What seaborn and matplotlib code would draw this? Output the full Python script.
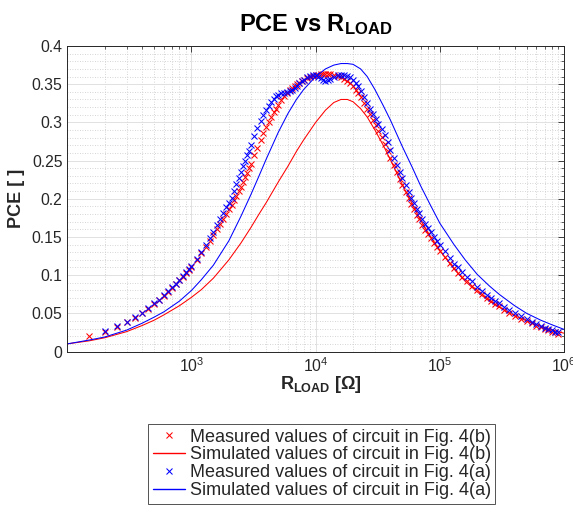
import numpy as np
import seaborn as sns
import matplotlib.pyplot as plt
from matplotlib.lines import Line2D
from matplotlib.ticker import FixedLocator, LogLocator, MultipleLocator, NullFormatter, FuncFormatter

# measured sweep (load resistance, ohm)
r_meas = [150, 200, 250, 300, 350, 400, 450, 500, 550, 600, 650, 700, 750, 800, 850, 900, 950,
          1000, 1100, 1200, 1300, 1400, 1500, 1600, 1700, 1800, 1900,
          2000, 2100, 2200, 2300, 2400, 2500, 2600, 2700, 2800, 2900,
          3000, 3200, 3400, 3600, 3800, 4000, 4200, 4400, 4600, 4800,
          5000, 5300, 5600, 5900, 6200, 6500, 6800, 7100, 7400, 7700,
          8000, 8500, 9000, 9500, 10000, 10500, 11000, 11500, 12000, 12500,
          13000, 14000, 15000, 16000, 17000, 18000, 19000, 20000, 21000, 22000,
          23000, 24500, 26000, 27500, 29000, 30500, 32000, 34000, 36000, 38000,
          40000, 42500, 45000, 47500, 50000, 53000, 56000, 59000, 62000, 65000,
          68000, 72000, 76000, 80000, 85000, 90000, 95000, 100000, 110000, 120000,
          130000, 140000, 150000, 165000, 180000, 200000, 220000, 240000, 260000, 280000,
          300000, 330000, 360000, 400000, 450000, 500000, 550000, 600000, 650000, 700000,
          750000, 800000, 850000, 900000]

# measured PCE, circuit of Fig. 4(b)
pce_meas_b = [0.020, 0.026, 0.032, 0.038, 0.044, 0.050, 0.056, 0.062, 0.067, 0.073, 0.078, 0.083, 0.088, 0.093, 0.098, 0.103, 0.107,
              0.111, 0.120, 0.129, 0.137, 0.145, 0.153, 0.160, 0.167, 0.174, 0.180,
              0.186, 0.192, 0.198, 0.204, 0.210, 0.216, 0.222, 0.228, 0.234, 0.240,
              0.246, 0.257, 0.267, 0.277, 0.286, 0.294, 0.301, 0.307, 0.313, 0.318,
              0.323, 0.329, 0.334, 0.338, 0.342, 0.345, 0.348, 0.350, 0.352, 0.354,
              0.356, 0.358, 0.360, 0.361, 0.362, 0.362, 0.363, 0.363, 0.363, 0.363,
              0.363, 0.362, 0.361, 0.359, 0.357, 0.354, 0.351, 0.347, 0.343, 0.338,
              0.333, 0.326, 0.318, 0.311, 0.303, 0.296, 0.289, 0.281, 0.272, 0.263,
              0.254, 0.244, 0.235, 0.226, 0.218, 0.209, 0.201, 0.193, 0.186, 0.179,
              0.173, 0.166, 0.159, 0.154, 0.148, 0.142, 0.137, 0.132, 0.124, 0.116,
              0.109, 0.103, 0.098, 0.092, 0.086, 0.080, 0.075, 0.070, 0.066, 0.062,
              0.059, 0.055, 0.051, 0.047, 0.043, 0.040, 0.037, 0.034, 0.032, 0.030,
              0.028, 0.026, 0.025, 0.023]

# measured PCE, circuit of Fig. 4(a)
pce_meas_a = [np.nan, 0.027, 0.033, 0.039, 0.045, 0.051, 0.057, 0.063, 0.068, 0.074, 0.079, 0.084, 0.089, 0.094, 0.099, 0.104, 0.108,
              0.112, 0.121, 0.130, 0.139, 0.148, 0.157, 0.166, 0.174, 0.182, 0.189,
              0.195, 0.201, 0.210, 0.219, 0.227, 0.235, 0.243, 0.250, 0.257, 0.263,
              0.270, 0.282, 0.292, 0.302, 0.309, 0.316, 0.322, 0.327, 0.331, 0.334,
              0.336, 0.338, 0.339, 0.340, 0.341, 0.343, 0.345, 0.348, 0.351, 0.354,
              0.356, 0.360, 0.361, 0.362, 0.362, 0.360, 0.358, 0.356, 0.354, 0.355,
              0.357, 0.360, 0.362, 0.362, 0.362, 0.361, 0.359, 0.356, 0.352, 0.347,
              0.341, 0.333, 0.325, 0.318, 0.311, 0.305, 0.298, 0.291, 0.283, 0.274,
              0.264, 0.254, 0.244, 0.235, 0.227, 0.218, 0.209, 0.201, 0.194, 0.187,
              0.181, 0.173, 0.167, 0.162, 0.156, 0.150, 0.145, 0.140, 0.131, 0.123,
              0.115, 0.110, 0.104, 0.098, 0.092, 0.085, 0.079, 0.074, 0.070, 0.066,
              0.063, 0.058, 0.055, 0.050, 0.046, 0.042, 0.039, 0.036, 0.033, 0.031,
              0.029, 0.028, 0.026, 0.025]

# simulated curves
r_sim = [100, 150, 200, 300, 400, 500, 600, 800, 1000, 1200, 1500, 2000, 2500, 3000, 3500, 4000,
         5000, 6000, 7000, 8000, 10000, 12000, 14000, 16000, 18000, 20000, 23000, 26000, 30000,
         35000, 40000, 50000, 60000, 70000, 85000, 100000, 130000, 160000, 200000, 250000, 300000,
         400000, 500000, 650000, 800000, 1000000]
pce_sim_b = [0.010, 0.014, 0.018, 0.026, 0.034, 0.041, 0.048, 0.060, 0.071, 0.081, 0.096, 0.120, 0.142, 0.162, 0.180, 0.195,
             0.222, 0.243, 0.262, 0.277, 0.300, 0.316, 0.326, 0.330, 0.330, 0.327, 0.318, 0.307, 0.290,
             0.270, 0.251, 0.218, 0.193, 0.172, 0.149, 0.132, 0.108, 0.092, 0.078, 0.066, 0.058,
             0.047, 0.040, 0.033, 0.028, 0.024]
pce_sim_a = [0.010, 0.015, 0.019, 0.028, 0.037, 0.045, 0.052, 0.066, 0.080, 0.094, 0.113, 0.145, 0.177, 0.205, 0.230, 0.252,
             0.287, 0.312, 0.330, 0.343, 0.360, 0.370, 0.375, 0.377, 0.377, 0.376, 0.370, 0.360, 0.343,
             0.322, 0.303, 0.268, 0.241, 0.217, 0.190, 0.168, 0.140, 0.120, 0.101, 0.086, 0.075,
             0.060, 0.050, 0.041, 0.035, 0.029]

labels = ['Measured values of circuit in Fig. 4(b)', 'Simulated values of circuit in Fig. 4(b)',
          'Measured values of circuit in Fig. 4(a)', 'Simulated values of circuit in Fig. 4(a)']

sns.set_theme(style='white')
plt.rcParams['font.family'] = ['Liberation Sans', 'DejaVu Sans']
plt.rcParams['mathtext.fontset'] = 'custom'
plt.rcParams['mathtext.rm'] = 'Liberation Sans'
plt.rcParams['mathtext.bf'] = 'Liberation Sans:bold'
plt.rcParams['mathtext.it'] = 'Liberation Sans:italic'

ink = '#262626'
fig = plt.figure(figsize=(5.73, 5.22), dpi=100)
ax = fig.add_axes([0.1175, 0.3266, 0.8668, 0.5853])

mk = dict(marker='x', linestyle='', markersize=4.6, markeredgewidth=0.75, estimator=None, sort=False, legend=False)
ln = dict(linewidth=0.75, estimator=None, sort=False, legend=False)
sns.lineplot(x=r_meas, y=pce_meas_b, ax=ax, color='red', markeredgecolor='red', **mk)
sns.lineplot(x=r_sim, y=pce_sim_b, ax=ax, color='red', **ln)
sns.lineplot(x=r_meas, y=pce_meas_a, ax=ax, color='blue', markeredgecolor='blue', **mk)
sns.lineplot(x=r_sim, y=pce_sim_a, ax=ax, color='blue', **ln)

ax.set_xscale('log')
ax.set_xlim(100, 1e6)
ax.set_ylim(0, 0.4)
ax.xaxis.set_major_locator(FixedLocator([1e3, 1e4, 1e5, 1e6]))
ax.xaxis.set_minor_locator(LogLocator(base=10, subs=np.arange(2, 10), numticks=50))
ax.xaxis.set_minor_formatter(NullFormatter())
ax.yaxis.set_major_locator(MultipleLocator(0.05))
ax.yaxis.set_minor_locator(MultipleLocator(0.01))
ax.yaxis.set_major_formatter(FuncFormatter(lambda v, _: f'{v:g}'))

ax.grid(which='major', color='#dcdcdc', linewidth=0.6, linestyle='-')
ax.grid(which='minor', color='#c8c8c8', linewidth=0.6, linestyle=(0, (1, 2)))
ax.set_axisbelow(True)

ax.tick_params(which='both', direction='in', top=True, right=True, colors=ink, labelsize=11.3)
ax.tick_params(which='major', length=4, width=0.6)
ax.tick_params(which='minor', length=2.2, width=0.5)
for s in ax.spines.values():
    s.set_color(ink)
    s.set_linewidth(0.7)

ax.set_title(r'PCE vs R$_{\mathbf{LOAD}}$', fontsize=17, fontweight='bold', color='black', pad=11)
ax.set_xlabel(r'R$_{\mathbf{LOAD}}$ [Ω]', fontsize=13, fontweight='bold', color=ink)
ax.set_ylabel('PCE [ ]', fontsize=13, fontweight='bold', color=ink)
ax.xaxis.set_label_coords(0.51, -0.075)
ax.yaxis.set_label_coords(-0.085, 0.5)

handles = [
    Line2D([], [], color='#ff0000', marker='x', linestyle='', markersize=4.6, markeredgewidth=0.75),
    Line2D([], [], color='#ff0000', linewidth=1.0),
    Line2D([], [], color='#0000ff', marker='x', linestyle='', markersize=4.6, markeredgewidth=0.75),
    Line2D([], [], color='#0000ff', linewidth=1.0),
]
leg = fig.legend(handles, labels, loc='upper left', bbox_to_anchor=(148 / 573, 1 - 424 / 522),
                 fontsize=13, frameon=True, fancybox=False, borderaxespad=0, borderpad=0.25,
                 handlelength=1.8, handletextpad=0.25, labelspacing=0.05, numpoints=1)
leg.get_frame().set_edgecolor(ink)
leg.get_frame().set_linewidth(0.7)

fig.savefig('out.png', dpi=100)
